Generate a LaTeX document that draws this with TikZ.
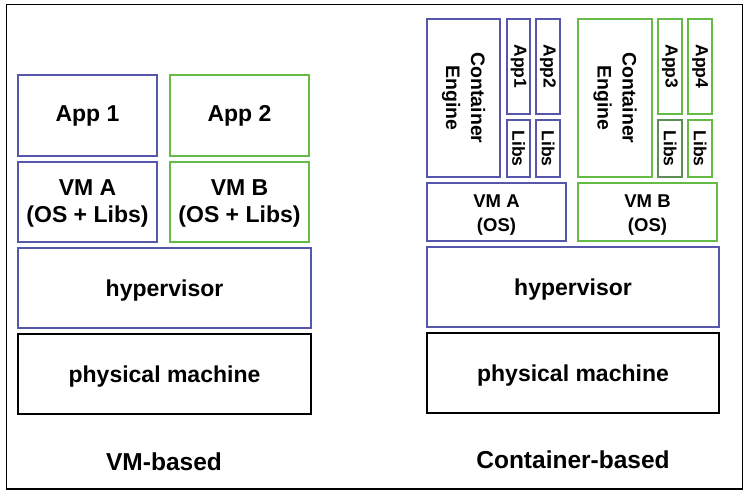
\documentclass[tikz,border=0pt]{standalone}
\usepackage{fontspec}
\setmainfont{Liberation Sans}
\definecolor{vmblue}{HTML}{5656AA}
\definecolor{vmgreen}{HTML}{66BB46}
\definecolor{darkgreen}{HTML}{5E8E56}
\newcommand\lwr[2]{\raisebox{-#1}[\height][\depth]{#2}}
\tikzset{
  bbox/.style={draw, line width=1.6pt, inner sep=0pt, align=center, font=\bfseries\fontsize{23}{27}\selectfont},
  sbox/.style={draw, line width=1.6pt, inner sep=0pt, align=center, font=\bfseries\fontsize{18.5}{24}\selectfont},
  rbox/.style={draw, line width=1.6pt, inner sep=0pt, align=center, rotate=-90, font=\bfseries\fontsize{17.5}{21}\selectfont},
  cbox/.style={draw, line width=1.6pt, inner sep=0pt, align=center, rotate=-90, font=\bfseries\fontsize{19.5}{25}\selectfont},
  caption/.style={font=\bfseries\fontsize{24.5}{28}\selectfont},
}
\begin{document}
\begin{tikzpicture}[x=1pt,y=-1pt]
\useasboundingbox (0,0) rectangle (751,498);
\draw[line width=1.5pt] (6.5,4.5) rectangle (742.5,489);
% VM-based
\node[bbox, vmblue, text=black, minimum width=139pt, minimum height=81pt] (app1) at (87.5,115.5) {App 1};
\node[bbox, vmgreen, text=black, minimum width=139pt, minimum height=81pt] (app2) at (239.5,115.5) {App 2};
\node[bbox, vmblue, text=black, minimum width=139pt, minimum height=80pt] (vma) at (87.5,202) {\lwr{1.5pt}{VM A}\\\lwr{1.5pt}{(OS + Libs)}};
\node[bbox, vmgreen, text=black, minimum width=139pt, minimum height=80pt] (vmb) at (239.5,202) {\lwr{1.5pt}{VM B}\\\lwr{1.5pt}{(OS + Libs)}};
\node[bbox, vmblue, text=black, minimum width=293pt, minimum height=80pt] (hypl) at (164.5,288) {\lwr{2.5pt}{hypervisor}};
\node[bbox, black, minimum width=293pt, minimum height=80pt] (physl) at (164.5,374) {\lwr{3pt}{physical machine}};
\node[caption] (capl) at (164,462) {VM-based};
% Container-based
\node[cbox, vmblue, text=black, minimum width=158pt, minimum height=73pt] (cea) at (463.5,98) {Container\\Engine};
\node[rbox, vmblue, text=black, minimum width=95pt, minimum height=23pt] (appa1) at (518.5,66.5) {App1};
\node[rbox, vmblue, text=black, minimum width=57pt, minimum height=23pt] (libsa1) at (518.5,148.5) {Libs};
\node[rbox, vmblue, text=black, minimum width=95pt, minimum height=24pt] (appa2) at (548,66.5) {App2};
\node[rbox, vmblue, text=black, minimum width=57pt, minimum height=24pt] (libsa2) at (548,148.5) {Libs};
\node[cbox, vmgreen, text=black, minimum width=158pt, minimum height=74pt] (ceb) at (615,98) {Container\\Engine};
\node[rbox, vmgreen, text=black, minimum width=95pt, minimum height=24pt] (appb3) at (670,66.5) {App3};
\node[rbox, darkgreen, text=black, line width=2pt, minimum width=57pt, minimum height=24pt] (libsb3) at (670,148.5) {Libs};
\node[rbox, vmgreen, text=black, minimum width=95pt, minimum height=24pt] (appb4) at (700,66.5) {App4};
\node[rbox, vmgreen, text=black, minimum width=57pt, minimum height=24pt] (libsb4) at (700,148.5) {Libs};
\node[sbox, vmblue, text=black, minimum width=139pt, minimum height=58pt] (vmar) at (496.5,212) {\lwr{3pt}{VM A}\\\lwr{3pt}{(OS)}};
\node[sbox, vmgreen, text=black, minimum width=139pt, minimum height=58pt] (vmbr) at (647.5,212) {\lwr{3pt}{VM B}\\\lwr{3pt}{(OS)}};
\node[bbox, vmblue, text=black, minimum width=292pt, minimum height=80pt] (hypr) at (573,287) {\lwr{2.5pt}{hypervisor}};
\node[bbox, black, minimum width=292pt, minimum height=80pt] (physr) at (573,373) {\lwr{3pt}{physical machine}};
\node[caption] (capr) at (573,460) {Container-based};
\end{tikzpicture}
\end{document}
